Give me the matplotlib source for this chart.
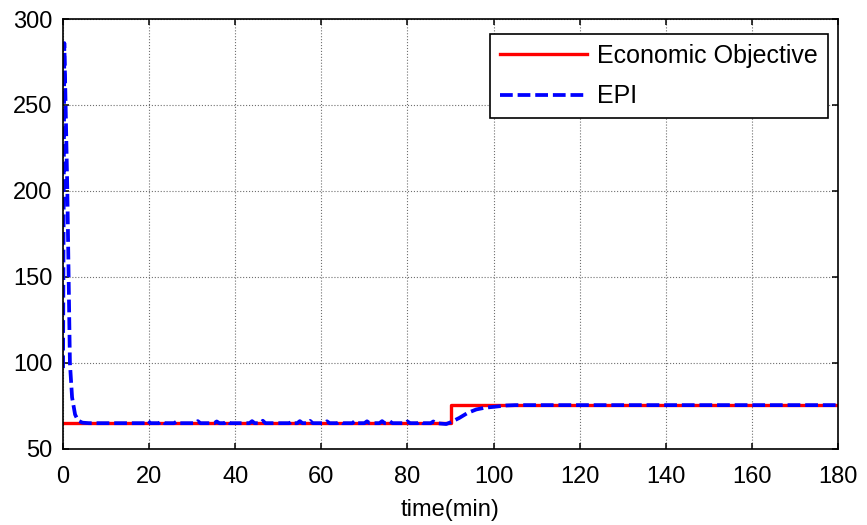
import numpy as np
import matplotlib.pyplot as plt

plt.rcParams['font.family'] = ['Liberation Sans', 'DejaVu Sans']

# Economic objective (step at t = 90 min)
eco_t = [0, 90, 90, 180]
eco_v = [65.0, 65.0, 75.5, 75.5]

# EPI response
epi_t = [0, 0.3, 0.6, 1.0, 1.3, 1.6, 2.1, 2.8, 3.5, 4.5, 6.0,
         19.1, 19.7, 20.3, 22.3, 22.9, 23.5, 25.8, 26.4, 27.0,
         30.7, 31.3, 31.9, 35.1, 35.7, 36.3, 37.5, 38.1, 38.7,
         43.3, 43.9, 44.5, 45.8, 46.4, 47.0, 52.6, 53.2, 53.8,
         54.4, 55.0, 55.6, 56.8, 57.4, 58.0, 60.7, 61.3, 61.9,
         63.7, 64.3, 64.9, 67.2, 67.8, 68.4, 70.0, 70.6, 71.2,
         73.5, 74.1, 74.7, 75.3, 75.9, 76.5, 79.4, 80.0, 80.6,
         82.4, 83.0, 83.6, 85.4, 86.0, 86.6,
         89.0, 90.0, 92.0, 94.0, 96.0, 98.0, 100.0, 103.0, 105.0, 180.0]
epi_v = [97.0, 286.0, 250.0, 200.0, 150.0, 100.0, 80.0, 70.0, 66.5, 65.3, 65.0,
         65.0, 66.4, 65.0, 65.0, 66.2, 65.0, 65.0, 66.0, 65.0,
         65.0, 66.2, 65.0, 65.0, 66.0, 65.0, 65.0, 66.4, 65.0,
         65.0, 66.2, 65.0, 65.0, 66.4, 65.0, 65.0, 66.1, 65.0,
         65.0, 66.2, 65.0, 65.0, 66.3, 65.0, 65.0, 66.1, 65.0,
         65.0, 66.0, 65.0, 65.0, 66.3, 65.0, 65.0, 66.1, 65.0,
         65.0, 66.2, 65.0, 65.0, 66.1, 65.0, 65.0, 66.0, 65.0,
         65.0, 66.2, 65.0, 65.0, 66.0, 65.0,
         64.5, 65.5, 68.0, 71.0, 73.0, 74.0, 74.5, 75.3, 75.5, 75.5]

xticks = np.arange(0, 181, 20)
yticks = np.arange(50, 301, 50)

fig = plt.figure(figsize=(8.67, 5.25), dpi=100)
ax = fig.add_axes([0.0727, 0.1448, 0.8939, 0.8190])

ax.plot(eco_t, eco_v, color='#ff0000', lw=2.4, label='Economic Objective')
ax.plot(epi_t, epi_v, color='#0000ff', lw=2.7, linestyle=(0, (3.4, 1.3)), label='EPI')

ax.set_xlim(0, 180)
ax.set_ylim(50, 300)
ax.set_xticks(xticks)
ax.set_yticks(yticks)
ax.grid(True, color='#6f6f6f', linestyle=':', lw=0.8)
ax.tick_params(direction='in', length=4, width=1.1, top=True, right=True,
               labelsize=17)
ax.tick_params(axis='x', pad=12.5)
ax.tick_params(axis='y', pad=7.5)
for s in ax.spines.values():
    s.set_linewidth(1.2)

ax.set_xlabel('time(min)', fontsize=17, labelpad=8)

leg = ax.legend(loc='upper right', bbox_to_anchor=(0.987, 0.965), fontsize=18,
                handlelength=3.5, fancybox=False, framealpha=1,
                edgecolor='black', borderaxespad=0, handletextpad=0.4,
                borderpad=0.4, labelspacing=0.65)
leg.get_frame().set_linewidth(1.2)

fig.savefig('out.png', dpi=100)
